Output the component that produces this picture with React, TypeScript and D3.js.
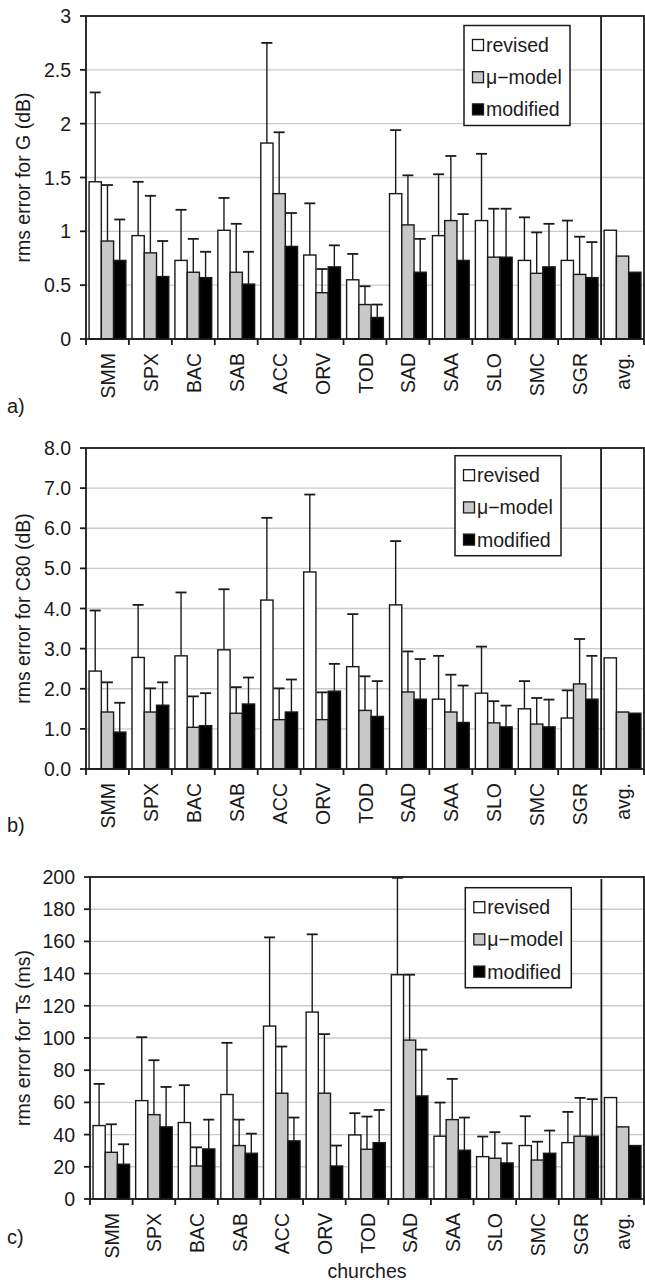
import React, { useEffect, useRef } from 'react';
import * as d3 from 'd3';

const churches = ['SMM', 'SPX', 'BAC', 'SAB', 'ACC', 'ORV', 'TOD', 'SAD', 'SAA', 'SLO', 'SMC', 'SGR', 'avg.'];
const seriesNames = ['revised', 'μ−model', 'modified'];
const seriesFill = ['#ffffff', '#c8c8c8', '#000000'];

// a) G (dB) - bar values and top of the error bar (null = no bar)
const gRevised = [1.46, 0.96, 0.73, 1.01, 1.82, 0.78, 0.55, 1.35, 0.96, 1.10, 0.73, 0.73, 1.01];
const gRevisedTop = [2.29, 1.46, 1.20, 1.31, 2.75, 1.26, 0.79, 1.94, 1.53, 1.72, 1.13, 1.10, null];
const gMu = [0.91, 0.80, 0.62, 0.62, 1.35, 0.43, 0.32, 1.06, 1.10, 0.76, 0.61, 0.60, 0.77];
const gMuTop = [1.43, 1.33, 0.93, 1.07, 1.92, 0.65, 0.49, 1.52, 1.70, 1.21, 0.99, 0.95, null];
const gModified = [0.73, 0.58, 0.57, 0.51, 0.86, 0.67, 0.20, 0.62, 0.73, 0.76, 0.67, 0.57, 0.62];
const gModifiedTop = [1.11, 0.91, 0.81, 0.81, 1.17, 0.87, 0.32, 0.93, 1.16, 1.21, 1.07, 0.90, null];

// b) C80 (dB)
const cRevised = [2.44, 2.78, 2.82, 2.97, 4.21, 4.91, 2.55, 4.09, 1.74, 1.89, 1.50, 1.27, 2.77];
const cRevisedTop = [3.95, 4.09, 4.40, 4.48, 6.26, 6.84, 3.86, 5.68, 2.82, 3.05, 2.19, 1.96, null];
const cMu = [1.42, 1.42, 1.04, 1.39, 1.23, 1.23, 1.46, 1.92, 1.42, 1.15, 1.12, 2.12, 1.42];
const cMuTop = [2.16, 2.01, 1.81, 2.04, 2.01, 1.91, 2.31, 2.93, 2.35, 1.69, 1.77, 3.24, null];
const cModified = [0.92, 1.59, 1.08, 1.62, 1.42, 1.94, 1.31, 1.74, 1.16, 1.05, 1.05, 1.74, 1.39];
const cModifiedTop = [1.65, 2.16, 1.89, 2.28, 2.23, 2.62, 2.19, 2.74, 2.08, 1.58, 1.73, 2.82, null];

// c) Ts (ms)
const tRevised = [45.6, 61.1, 47.5, 64.9, 107.4, 116.1, 39.8, 139.3, 39.0, 26.3, 33.2, 35.0, 63.0];
const tRevisedTop = [71.5, 100.5, 70.7, 97.0, 162.5, 164.4, 53.3, 199.5, 59.9, 38.8, 51.4, 54.1, null];
const tMu = [29.0, 52.4, 20.5, 33.2, 65.7, 65.7, 30.9, 98.7, 49.3, 25.3, 24.2, 39.0, 44.8];
const tMuTop = [46.4, 86.2, 32.1, 49.3, 94.7, 102.4, 51.2, 139.3, 74.6, 41.5, 35.6, 62.8, null];
const tModified = [21.6, 44.8, 31.1, 28.4, 36.1, 20.5, 35.0, 64.0, 30.3, 22.4, 28.4, 39.0, 33.2];
const tModifiedTop = [34.0, 69.6, 49.3, 40.6, 50.6, 33.2, 55.3, 92.8, 50.6, 34.6, 42.5, 62.0, null];

const FONT = '"Liberation Sans", Arial, sans-serif';
const INK = '#1a1a1a';
const FS = '19.5px';

function drawPanel(svg, p) {
  const g = svg.append('g');
  const x = d3.scaleBand().domain(churches).range([p.left, p.right]);
  const xs = d3.scaleBand().domain(['0', '1', '2']).range([0, x.bandwidth()]).paddingOuter(0.25);
  const y = d3.scaleLinear().domain([0, p.yMax]).range([p.bottom, p.top]);
  const ticks = d3.range(0, p.yMax + p.yStep / 2, p.yStep);

  // gridlines
  g.selectAll('.grid')
    .data(ticks.filter((t) => t > 0 && t < p.yMax))
    .enter()
    .append('line')
    .attr('x1', p.left).attr('x2', p.right)
    .attr('y1', (d) => y(d)).attr('y2', (d) => y(d))
    .attr('stroke', '#cbcbcb')
    .attr('stroke-width', 1.4);

  // bars
  p.values.forEach((vals, si) => {
    g.selectAll('.bar' + si)
      .data(vals)
      .enter()
      .append('rect')
      .attr('x', (d, i) => x(churches[i]) + xs(String(si)))
      .attr('y', (d) => y(d))
      .attr('width', xs.bandwidth())
      .attr('height', (d) => p.bottom - y(d))
      .attr('fill', seriesFill[si])
      .attr('stroke', INK)
      .attr('stroke-width', 1.4);
  });

  // error bars (upper only)
  p.tops.forEach((tops, si) => {
    tops.forEach((t, i) => {
      if (t == null) return;
      const cx = x(churches[i]) + xs(String(si)) + xs.bandwidth() / 2;
      g.append('line')
        .attr('x1', cx).attr('x2', cx)
        .attr('y1', y(p.values[si][i])).attr('y2', y(t))
        .attr('stroke', INK).attr('stroke-width', 1.4);
      g.append('line')
        .attr('x1', cx - 5.5).attr('x2', cx + 5.5)
        .attr('y1', y(t)).attr('y2', y(t))
        .attr('stroke', INK).attr('stroke-width', 1.8);
    });
  });

  // frame
  g.append('rect')
    .attr('x', p.left).attr('y', p.top)
    .attr('width', p.right - p.left).attr('height', p.bottom - p.top)
    .attr('fill', 'none').attr('stroke', INK).attr('stroke-width', 1.8);

  // separator before avg.
  g.append('line')
    .attr('x1', x('avg.')).attr('x2', x('avg.'))
    .attr('y1', p.top + p.sepGap).attr('y2', p.bottom)
    .attr('stroke', INK).attr('stroke-width', 1.8);

  // y ticks
  g.selectAll('.ytick')
    .data(ticks)
    .enter()
    .append('line')
    .attr('x1', p.left - 6).attr('x2', p.left)
    .attr('y1', (d) => y(d)).attr('y2', (d) => y(d))
    .attr('stroke', INK).attr('stroke-width', 1.8);

  g.selectAll('.ylab')
    .data(ticks)
    .enter()
    .append('text')
    .attr('x', p.left - 15)
    .attr('y', (d) => y(d))
    .attr('dy', '0.36em')
    .attr('text-anchor', 'end')
    .style('font-family', FONT)
    .style('font-size', FS)
    .attr('fill', INK)
    .text((d) => p.fmt(d));

  // x ticks at category boundaries
  g.selectAll('.xtick')
    .data(churches.map((c) => x(c)).concat([p.right]))
    .enter()
    .append('line')
    .attr('x1', (d) => d).attr('x2', (d) => d)
    .attr('y1', p.bottom).attr('y2', p.bottom + 6)
    .attr('stroke', INK).attr('stroke-width', 1.8);

  g.selectAll('.xlab')
    .data(churches)
    .enter()
    .append('text')
    .attr('transform', (d) => `translate(${x(d) + x.bandwidth() / 2 + 7.5},${p.bottom + 14}) rotate(-90)`)
    .attr('text-anchor', 'end')
    .style('font-family', FONT)
    .style('font-size', FS)
    .attr('fill', INK)
    .text((d) => d);

  // y title
  g.append('text')
    .attr('transform', `translate(29.5,${(p.top + p.bottom) / 2}) rotate(-90)`)
    .attr('text-anchor', 'middle')
    .style('font-family', FONT)
    .style('font-size', FS)
    .attr('fill', INK)
    .text(p.ylabel);

  // panel tag
  g.append('text')
    .attr('x', 7).attr('y', p.tagY)
    .style('font-family', FONT)
    .style('font-size', '20px')
    .attr('fill', INK)
    .text(p.tag);

  // legend
  const lg = g.append('g').attr('transform', `translate(${p.legend[0]},${p.legend[1]})`);
  lg.append('rect')
    .attr('width', 106).attr('height', 100)
    .attr('fill', '#fff').attr('stroke', INK).attr('stroke-width', 1.5);
  seriesNames.forEach((name, i) => {
    const cy = 19.5 + i * 32.2;
    lg.append('rect')
      .attr('x', 8.5).attr('y', cy - 5.5)
      .attr('width', 11).attr('height', 11)
      .attr('fill', seriesFill[i]).attr('stroke', INK).attr('stroke-width', 1.3);
    lg.append('text')
      .attr('x', 22).attr('y', cy).attr('dy', '0.36em')
      .style('font-family', FONT)
      .style('font-size', FS)
      .attr('fill', INK)
      .text(name);
  });
}

const App = () => {
  const svgRef = useRef(null);

  useEffect(() => {
    const svg = d3.select(svgRef.current);
    svg.selectAll('*').remove();

    drawPanel(svg, {
      left: 86, right: 644, top: 16, bottom: 339, yMax: 3, yStep: 0.5,
      fmt: d3.format(''), ylabel: 'rms error for G (dB)', tag: 'a)', tagY: 413,
      legend: [464, 25.5], sepGap: 0,
      values: [gRevised, gMu, gModified], tops: [gRevisedTop, gMuTop, gModifiedTop],
    });
    drawPanel(svg, {
      left: 86, right: 644, top: 448, bottom: 769, yMax: 8, yStep: 1,
      fmt: d3.format('.1f'), ylabel: 'rms error for C80 (dB)', tag: 'b)', tagY: 832,
      legend: [455, 455.7], sepGap: 0,
      values: [cRevised, cMu, cModified], tops: [cRevisedTop, cMuTop, cModifiedTop],
    });
    drawPanel(svg, {
      left: 90, right: 644, top: 877, bottom: 1199, yMax: 200, yStep: 20,
      fmt: d3.format('d'), ylabel: 'rms error for Ts (ms)', tag: 'c)', tagY: 1244,
      legend: [465.3, 887.7], sepGap: 2,
      values: [tRevised, tMu, tModified], tops: [tRevisedTop, tMuTop, tModifiedTop],
    });

    svg.append('text')
      .attr('x', 367).attr('y', 1278)
      .attr('text-anchor', 'middle')
      .style('font-family', FONT)
      .style('font-size', FS)
      .attr('fill', INK)
      .text('churches');
  }, []);

  return (
    <svg ref={svgRef} width={645} height={1283} viewBox="0 0 645 1283"
      style={{ position: 'absolute', left: 0, top: 0, background: '#fff' }} />
  );
};

export default App;
